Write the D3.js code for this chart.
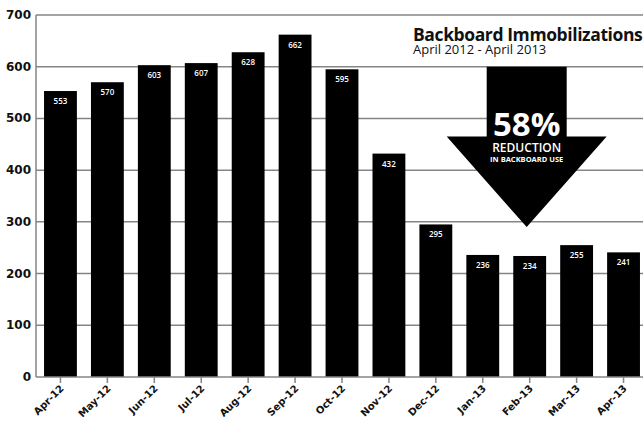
<!DOCTYPE html>
<html>
<head>
<meta charset="utf-8">
<script src="https://cdn.jsdelivr.net/npm/d3@7"></script>
<style>
  body { margin: 0; background: #fff; }
  svg { display: block; }
  .grid line { stroke: #858585; stroke-width: 1.5; }
  .ylab { font-family: "DejaVu Sans"; font-weight: bold; font-size: 12px; fill: #111; }
  .xlab { font-family: "DejaVu Sans"; font-weight: bold; font-size: 10px; fill: #111; }
  .vlab { font-family: "Open Sans"; font-weight: 600; font-size: 8px; fill: #fff; }
</style>
</head>
<body>
<script>
(function(){

//chart data
var months = ["Apr-12","May-12","Jun-12","Jul-12","Aug-12","Sep-12","Oct-12","Nov-12","Dec-12","Jan-13","Feb-13","Mar-13","Apr-13"];
var counts = [553, 570, 603, 607, 628, 662, 595, 432, 295, 236, 234, 255, 241];
var yTicks = [0, 100, 200, 300, 400, 500, 600, 700];

var titleText = "Backboard Immobilizations";
var subtitleText = "April 2012 - April 2013";
var bigText = "58%";
var midText = "REDUCTION";
var smallText = "IN BACKBOARD USE";

window.onload = drawChart();

function drawChart(){
    var width = 643,
        height = 421;

    var svg = d3.select("body")
        .append("svg")
        .attr("width", width)
        .attr("height", height);

    //scales
    var x = d3.scaleBand()
        .domain(months)
        .range([37, 647])
        .paddingInner(0.3)
        .paddingOuter(0.15);

    var y = d3.scaleLinear()
        .domain([0, 700])
        .range([377, 15]);

    //gridlines
    svg.append("g")
        .attr("class", "grid")
        .selectAll("line")
        .data(yTicks.slice(1))
        .enter()
        .append("line")
        .attr("x1", 36)
        .attr("x2", width)
        .attr("y1", function(d){ return y(d); })
        .attr("y2", function(d){ return y(d); });

    //reduction arrow (annotation), positioned from the scales
    var cx = x("Feb-13") + x.bandwidth() / 2 - 3,
        shaftHalf = 40,
        headHalf = 80,
        top = y(600),
        neck = y(465),
        tip = y(290);
    svg.append("path")
        .attr("d", "M" + (cx - shaftHalf) + "," + top +
                   "L" + (cx + shaftHalf) + "," + top +
                   "L" + (cx + shaftHalf) + "," + neck +
                   "L" + (cx + headHalf) + "," + neck +
                   "L" + cx + "," + tip +
                   "L" + (cx - headHalf) + "," + neck +
                   "L" + (cx - shaftHalf) + "," + neck + "Z")
        .attr("fill", "#000");

    svg.append("text")
        .attr("x", cx)
        .attr("y", 136)
        .attr("text-anchor", "middle")
        .style("font-family", "Open Sans")
        .style("font-weight", "bold")
        .style("font-size", "33px")
        .style("fill", "#fff")
        .text(bigText);
    svg.append("text")
        .attr("x", cx)
        .attr("y", 152)
        .attr("text-anchor", "middle")
        .style("font-family", "Open Sans")
        .style("font-weight", "600")
        .style("font-size", "12px")
        .style("fill", "#fff")
        .text(midText);
    svg.append("text")
        .attr("x", cx)
        .attr("y", 162)
        .attr("text-anchor", "middle")
        .style("font-family", "Open Sans")
        .style("font-weight", "bold")
        .style("font-size", "7.5px")
        .style("fill", "#fff")
        .text(smallText);

    //bars
    svg.selectAll(".bar")
        .data(counts)
        .enter()
        .append("rect")
        .attr("class", "bar")
        .attr("x", function(d, i){ return x(months[i]); })
        .attr("y", function(d){ return y(d); })
        .attr("width", x.bandwidth())
        .attr("height", function(d){ return y(0) - y(d); })
        .attr("fill", "#000");

    //value labels
    svg.selectAll(".vlab")
        .data(counts)
        .enter()
        .append("text")
        .attr("class", "vlab")
        .attr("x", function(d, i){ return x(months[i]) + x.bandwidth() / 2; })
        .attr("y", function(d){ return y(d) + 13; })
        .attr("text-anchor", "middle")
        .text(function(d){ return d; });

    //axes lines
    svg.append("line")
        .attr("x1", 36).attr("x2", 36)
        .attr("y1", y(700)).attr("y2", y(0))
        .attr("stroke", "#858585").attr("stroke-width", 1.5);
    svg.append("line")
        .attr("x1", 36).attr("x2", width)
        .attr("y1", y(0)).attr("y2", y(0))
        .attr("stroke", "#858585").attr("stroke-width", 1.5);

    //x ticks
    svg.selectAll(".xtick")
        .data(months)
        .enter()
        .append("line")
        .attr("class", "xtick")
        .attr("x1", function(d){ return x(d) + x.bandwidth() / 2; })
        .attr("x2", function(d){ return x(d) + x.bandwidth() / 2; })
        .attr("y1", y(0))
        .attr("y2", y(0) + 6)
        .attr("stroke", "#858585").attr("stroke-width", 1.5);

    //y labels
    svg.selectAll(".ylab")
        .data(yTicks)
        .enter()
        .append("text")
        .attr("class", "ylab")
        .attr("x", 31)
        .attr("y", function(d){ return y(d) + 4; })
        .attr("text-anchor", "end")
        .text(function(d){ return d; });

    //x labels
    svg.selectAll(".xlab")
        .data(months)
        .enter()
        .append("text")
        .attr("class", "xlab")
        .attr("text-anchor", "end")
        .attr("transform", function(d){
            return "translate(" + (x(d) + x.bandwidth() / 2 + 4) + "," + (y(0) + 12) + ") rotate(-45)";
        })
        .text(function(d){ return d; });

    //title
    svg.append("text")
        .attr("x", 413)
        .attr("y", 41)
        .style("font-family", "Open Sans")
        .style("font-weight", "bold")
        .style("font-size", "17.5px")
        .style("letter-spacing", "-0.4px")
        .style("fill", "#111")
        .text(titleText);
    svg.append("text")
        .attr("x", 413)
        .attr("y", 54)
        .style("font-family", "Open Sans")
        .style("font-size", "13px")
        .style("fill", "#111")
        .text(subtitleText);
};

})();
</script>
</body>
</html>
